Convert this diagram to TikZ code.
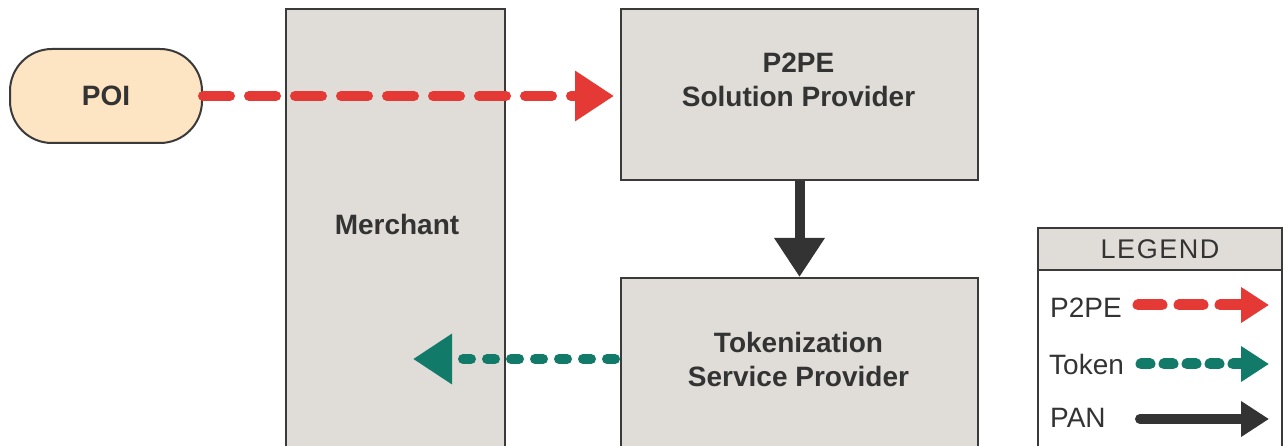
\documentclass[tikz,border=0pt]{standalone}
\usepackage{fontspec}
\setmainfont{Liberation Sans}
\usetikzlibrary{arrows.meta}
\definecolor{boxgray}{HTML}{E0DDD8}
\definecolor{bordergray}{HTML}{3A3A3A}
\definecolor{poifill}{HTML}{FDE4C3}
\definecolor{p2pered}{HTML}{E53935}
\definecolor{tokengreen}{HTML}{117A68}
\definecolor{panblack}{HTML}{333333}
\definecolor{txt}{HTML}{333333}
\tikzset{
  box/.style={draw=bordergray, line width=2pt, fill=boxgray, inner sep=0pt, anchor=north west},
  boxtext/.style={font=\fontsize{28}{34}\selectfont\bfseries, text=txt, align=center, inner sep=0pt},
  legtext/.style={font=\fontsize{28}{31}\selectfont, text=txt, inner sep=0pt, anchor=base west},
  p2peline/.style={draw=p2pered, line width=10pt, line cap=round, dash pattern=on 27pt off 19pt},
  tokenline/.style={draw=tokengreen, line width=10pt, line cap=round, dash pattern=on 8pt off 16pt},
  panline/.style={draw=panblack, line width=10pt},
  bighead/.style={-{Triangle[length=39pt,width=48pt]}},
  smallhead/.style={-{Triangle[length=28pt,width=34pt]}}
}
\begin{document}
\begin{tikzpicture}[x=1pt,y=-1pt]
\useasboundingbox[fill=white] (0,0) rectangle (1283,446);
% boxes
\node[box, minimum width=219pt, minimum height=470pt] (merchant) at (285,8) {};
\node[box, minimum width=357pt, minimum height=171pt] (p2pe) at (620,8) {};
\node[box, minimum width=357pt, minimum height=200pt] (tsp) at (620,277) {};
\node[box, fill=poifill, rounded corners=42pt, minimum width=192pt, minimum height=94pt] (poi) at (9,48) {};
% box labels
\node[boxtext] (poilabel) at (poi.center) {POI};
\node[boxtext] (merchantlabel) at (397,224.5) {Merchant};
\node[boxtext] (p2pelabel) at (798.5,79.5) {P2PE\\Solution Provider};
\node[boxtext] (tsplabel) at (798.5,359) {Tokenization\\Service Provider};
% connectors
\coordinate (tokout) at (413,359);
\draw[p2peline, bighead, shorten >=6pt] (poi.east) -- (poi.east -| p2pe.west);
\draw[panline, bighead] (p2pe.south) -- (tsp.north);
\draw[tokenline, bighead, shorten <=5pt] (tsp.west |- tokout) -- (tokout);
% legend
\node[box, fill=white, minimum width=244pt, minimum height=240pt] (legend) at (1037,227) {};
\node[box, minimum width=244pt, minimum height=42pt, font=\fontsize{27}{30}\selectfont, text=txt] (legendhead) at (1037,227) {L\kern1.5ptE\kern1.5ptG\kern1.5ptE\kern1.5ptN\kern1.5ptD};
\node[legtext] (legp2pe) at (1050,318) {P2PE};
\node[legtext] (legtoken) at (1049,374) {Token};
\node[legtext] (legpan) at (1050,428) {PAN};
\coordinate (lp2pea) at (1138,305);
\coordinate (lp2peb) at (1269,305);
\coordinate (ltoka) at (1141,364);
\coordinate (ltokb) at (1269,364);
\coordinate (lpana) at (1140,419);
\coordinate (lpanb) at (1269,419);
\draw[p2peline, line width=11pt, dash pattern=on 24pt off 17pt, smallhead] (lp2pea) -- (lp2peb);
\draw[tokenline, line width=11pt, dash pattern=on 9pt off 14pt, smallhead] (ltoka) -- (ltokb);
\draw[panline, line cap=round, smallhead] (lpana) -- (lpanb);
\end{tikzpicture}
\end{document}
